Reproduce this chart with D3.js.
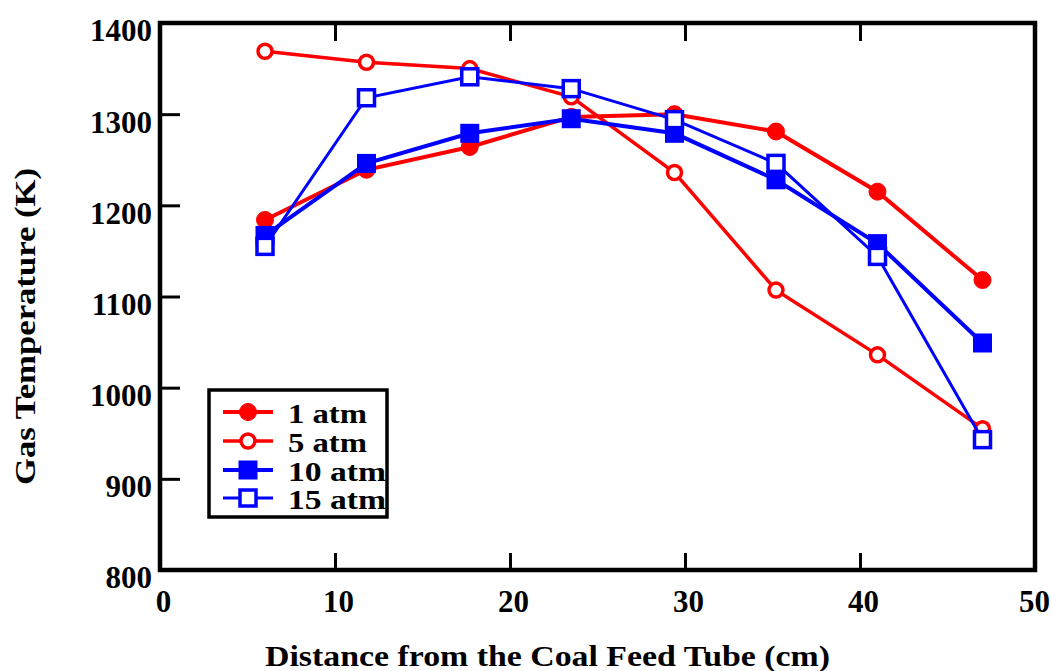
<!DOCTYPE html>
<html>
<head>
<meta charset="utf-8">
<script src="https://cdn.jsdelivr.net/npm/d3@7"></script>
<style>
  html, body { margin: 0; padding: 0; background: #fff; }
  svg { display: block; font-family: 'Liberation Serif', 'Times New Roman', serif; font-weight: bold; }
</style>
</head>
<body>
<div id="chart"></div>
<script>
// distance from coal feed tube (cm)
const distance = [6, 11.8, 17.7, 23.5, 29.4, 35.2, 41, 47];

// gas temperature (K) per pressure
const temp1atm  = [1184, 1239, 1264, 1297, 1300, 1281, 1215, 1118];
const temp5atm  = [1369, 1357, 1350, 1319, 1236, 1107, 1036, 955];
const temp10atm = [1167, 1246, 1279, 1295, 1279, 1228, 1158, 1049];
const temp15atm = [1155, 1318, 1341, 1328, 1294, 1246, 1144, 943];

const seriesNames = ['1 atm', '5 atm', '10 atm', '15 atm'];
const xTicks = [0, 10, 20, 30, 40, 50];
const yTicks = [800, 900, 1000, 1100, 1200, 1300, 1400];

const W = 1052, H = 671;
const plotL = 160, plotR = 1035, plotT = 23, plotB = 570;

const series = [
  { name: seriesNames[0], values: temp1atm,  color: '#ff0000', shape: 'circle', filled: true,  width: 4 },
  { name: seriesNames[1], values: temp5atm,  color: '#ff0000', shape: 'circle', filled: false, width: 3.5 },
  { name: seriesNames[2], values: temp10atm, color: '#0000ff', shape: 'square', filled: true,  width: 4 },
  { name: seriesNames[3], values: temp15atm, color: '#0000ff', shape: 'square', filled: false, width: 3 },
];

const x = d3.scaleLinear().domain([0, 50]).range([plotL, plotR]);
const y = d3.scaleLinear().domain([800, 1400]).range([plotB, plotT]);

const svg = d3.select('#chart').append('svg')
  .attr('width', W).attr('height', H);

// axes (ticks point inward)
const yAxis = svg.append('g')
  .attr('transform', `translate(${plotL},0)`)
  .call(d3.axisLeft(y).tickValues(yTicks).tickFormat(d3.format('d')).tickSize(-20).tickPadding(8));
yAxis.selectAll('text').attr('dy', '0.58em');

const xAxis = svg.append('g')
  .attr('transform', `translate(0,${plotB})`)
  .call(d3.axisBottom(x).tickValues(xTicks).tickFormat(d3.format('d')).tickSize(-17).tickPadding(20));
xAxis.selectAll('text').attr('dx', d => d === 50 ? -1 : 3);

svg.append('g')
  .attr('transform', `translate(0,${plotT})`)
  .call(d3.axisTop(x).tickValues(xTicks).tickSize(-18).tickFormat(''));

svg.selectAll('.domain').remove();
svg.selectAll('.tick line').attr('stroke', '#000').attr('stroke-width', 3);
svg.selectAll('.tick text')
  .attr('fill', '#000')
  .style('font-size', '31px')
  .style('font-family', "'Liberation Serif', serif")
  .style('font-weight', 'bold');

// frame
svg.append('rect')
  .attr('x', plotL).attr('y', plotT)
  .attr('width', plotR - plotL).attr('height', plotB - plotT)
  .attr('fill', 'none').attr('stroke', '#000').attr('stroke-width', 4.5);

// axis titles
svg.append('text')
  .attr('x', 265).attr('y', 666)
  .attr('textLength', 565).attr('lengthAdjust', 'spacingAndGlyphs')
  .style('font-size', '30px')
  .text('Distance from the Coal Feed Tube (cm)');

svg.append('text')
  .attr('transform', 'translate(35,485) rotate(-90)')
  .attr('textLength', 317).attr('lengthAdjust', 'spacingAndGlyphs')
  .style('font-size', '30px')
  .text('Gas Temperature (K)');

function drawMarker(g, s, cx, cy) {
  if (s.shape === 'circle') {
    const r = s.filled ? 8.5 : 7;
    g.append('circle')
      .attr('cx', cx).attr('cy', cy).attr('r', r)
      .attr('fill', s.filled ? s.color : '#fff')
      .attr('stroke', s.color).attr('stroke-width', s.filled ? 1 : 3.5);
  } else {
    const half = s.filled ? 9.5 : 8;
    g.append('rect')
      .attr('x', cx - half).attr('y', cy - half)
      .attr('width', half * 2).attr('height', half * 2)
      .attr('fill', s.filled ? s.color : '#fff')
      .attr('stroke', s.color).attr('stroke-width', s.filled ? 0 : 3.5);
  }
}

const line = d3.line().x((d, i) => x(distance[i])).y(d => y(d));

series.forEach(s => {
  const g = svg.append('g');
  g.append('path')
    .attr('d', line(s.values))
    .attr('fill', 'none')
    .attr('stroke', s.color)
    .attr('stroke-width', s.width);
  s.values.forEach((v, i) => drawMarker(g, s, x(distance[i]), y(v)));
});

// legend
const legend = svg.append('g');
legend.append('rect')
  .attr('x', 209).attr('y', 390).attr('width', 178).attr('height', 127)
  .attr('fill', '#fff').attr('stroke', '#000').attr('stroke-width', 3.5);

const rowY = [412, 441, 470, 498];
const labelW = [79, 79, 98, 98];
series.forEach((s, i) => {
  const g = legend.append('g');
  g.append('line')
    .attr('x1', 223).attr('x2', 273)
    .attr('y1', rowY[i]).attr('y2', rowY[i])
    .attr('stroke', s.color).attr('stroke-width', s.width);
  drawMarker(g, s, 248, rowY[i]);
  g.append('text')
    .attr('x', 288).attr('y', rowY[i] + 11)
    .attr('textLength', labelW[i]).attr('lengthAdjust', 'spacingAndGlyphs')
    .style('font-size', '28px')
    .text(s.name);
});
</script>
</body>
</html>
